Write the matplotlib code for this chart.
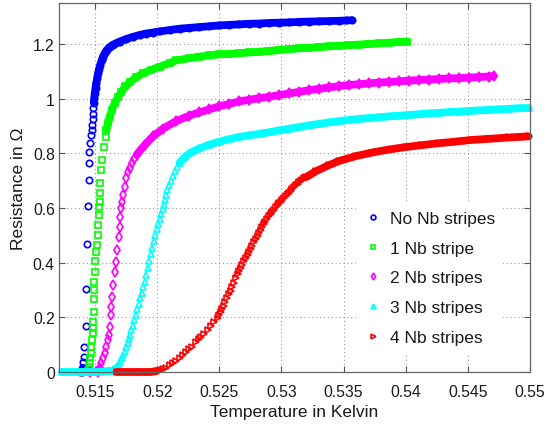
import numpy as np
import matplotlib
matplotlib.use("Agg")
import matplotlib.pyplot as plt

plt.rcParams['font.family'] = ['Liberation Sans', 'DejaVu Sans']

# ---------------- data ----------------
x_ticks = [0.515, 0.52, 0.525, 0.53, 0.535, 0.54, 0.545, 0.55]
x_tick_labels = ["0.515", "0.52", "0.525", "0.53", "0.535", "0.54", "0.545", "0.55"]
y_ticks = [0, 0.2, 0.4, 0.6, 0.8, 1.0, 1.2]
y_tick_labels = ["0", "0.2", "0.4", "0.6", "0.8", "1", "1.2"]

labels = ["No Nb stripes", "1 Nb stripe", "2 Nb stripes", "3 Nb stripes", "4 Nb stripes"]

blue_T = [0.51377, 0.51393, 0.51401, 0.51405, 0.51409, 0.51415, 0.51425, 0.51431, 0.51439,
          0.51444, 0.51449, 0.51451, 0.51455, 0.51463, 0.51471, 0.51475, 0.51478, 0.51481,
          0.51484, 0.51487, 0.51490, 0.51494, 0.51498, 0.51504, 0.51510, 0.51517, 0.51524,
          0.51533, 0.51542, 0.51553, 0.51564, 0.51580, 0.51594, 0.51618, 0.51642, 0.51670,
          0.51698, 0.51750, 0.51803, 0.51859, 0.51907, 0.51963, 0.52019, 0.52100, 0.52180,
          0.52260, 0.52340, 0.52421, 0.52501, 0.52581, 0.52661, 0.52741, 0.52822, 0.52902,
          0.52982, 0.53062, 0.53143, 0.53223, 0.53303, 0.53383, 0.53464, 0.53520, 0.53568]
blue_R = [0.0, 0.0, 0.015, 0.035, 0.056, 0.090, 0.168, 0.303, 0.467,
          0.607, 0.703, 0.766, 0.806, 0.839, 0.867, 0.885, 0.905, 0.925,
          0.945, 0.965, 0.985, 1.002, 1.020, 1.040, 1.057, 1.075, 1.093,
          1.110, 1.125, 1.140, 1.154, 1.168, 1.178, 1.189, 1.197, 1.203,
          1.209, 1.218, 1.226, 1.233, 1.238, 1.242, 1.246, 1.251, 1.256,
          1.259, 1.262, 1.265, 1.268, 1.270, 1.272, 1.274, 1.275, 1.277,
          1.278, 1.279, 1.281, 1.282, 1.283, 1.284, 1.285, 1.286, 1.287]

green_T = [0.51393, 0.51425, 0.51441, 0.51449, 0.51457, 0.51462, 0.51468, 0.51471, 0.51476,
           0.51481, 0.51484, 0.51486, 0.51488, 0.51489, 0.51490, 0.51494, 0.51496, 0.51501,
           0.51508, 0.51513, 0.51521, 0.51525, 0.51530, 0.51533, 0.51538, 0.51540, 0.51543,
           0.51551, 0.51559, 0.51570, 0.51585, 0.51592, 0.51605, 0.51618, 0.51638, 0.51658,
           0.51685, 0.51711, 0.51745, 0.51779, 0.51830, 0.51886, 0.51950, 0.52019, 0.52100,
           0.52152, 0.52260, 0.52340, 0.52421, 0.52501, 0.52581, 0.52661, 0.52741, 0.52822,
           0.52902, 0.52982, 0.53062, 0.53143, 0.53223, 0.53303, 0.53383, 0.53464, 0.53544,
           0.53624, 0.53704, 0.53785, 0.53865, 0.53945, 0.54010]
green_R = [0.0, 0.0, 0.005, 0.018, 0.032, 0.050, 0.068, 0.093, 0.117,
           0.142, 0.160, 0.184, 0.221, 0.266, 0.300, 0.330, 0.367, 0.406,
           0.440, 0.465, 0.501, 0.538, 0.574, 0.605, 0.623, 0.654, 0.690,
           0.739, 0.776, 0.824, 0.860, 0.885, 0.912, 0.934, 0.960, 0.983,
           1.005, 1.025, 1.045, 1.060, 1.078, 1.093, 1.105, 1.117, 1.130,
           1.140, 1.148, 1.154, 1.158, 1.162, 1.164, 1.166, 1.169, 1.172,
           1.175, 1.178, 1.181, 1.184, 1.186, 1.189, 1.191, 1.194, 1.196,
           1.198, 1.200, 1.202, 1.205, 1.207, 1.209]

magenta_T = [0.51457, 0.51522, 0.51538, 0.51551, 0.51564, 0.51578, 0.51591, 0.51604, 0.51612,
             0.51618, 0.51626, 0.51632, 0.51636, 0.51644, 0.51658, 0.51672, 0.51680, 0.51693,
             0.51698, 0.51704, 0.51712, 0.51720, 0.51726, 0.51738, 0.51752, 0.51762, 0.51779,
             0.51795, 0.51815, 0.51835, 0.51859, 0.51899, 0.51966, 0.52046, 0.52153, 0.52260,
             0.52340, 0.52421, 0.52501, 0.52581, 0.52661, 0.52741, 0.52822, 0.52902, 0.52982,
             0.53062, 0.53143, 0.53223, 0.53303, 0.53383, 0.53464, 0.53544, 0.53624, 0.53704,
             0.53785, 0.53865, 0.53945, 0.54025, 0.54106, 0.54186, 0.54267, 0.54347, 0.54427,
             0.54507, 0.54588, 0.54668, 0.54708]
magenta_R = [0.0, 0.0, 0.014, 0.032, 0.050, 0.068, 0.093, 0.117, 0.135,
             0.166, 0.209, 0.239, 0.276, 0.318, 0.367, 0.404, 0.446, 0.495,
             0.532, 0.568, 0.599, 0.623, 0.648, 0.678, 0.709, 0.730, 0.748,
             0.765, 0.780, 0.795, 0.808, 0.830, 0.862, 0.890, 0.918, 0.938,
             0.950, 0.961, 0.972, 0.981, 0.990, 0.996, 1.002, 1.007, 1.013,
             1.019, 1.025, 1.031, 1.036, 1.041, 1.046, 1.050, 1.053, 1.056,
             1.059, 1.061, 1.063, 1.066, 1.068, 1.070, 1.072, 1.074, 1.075,
             1.077, 1.079, 1.081, 1.083]

cyan_T = [0.51233, 0.51300, 0.51400, 0.51500, 0.51580, 0.51618, 0.51642, 0.51658, 0.51674,
          0.51690, 0.51702, 0.51714, 0.51726, 0.51738, 0.51750, 0.51762, 0.51770, 0.51779,
          0.51791, 0.51803, 0.51815, 0.51827, 0.51839, 0.51851, 0.51863, 0.51875, 0.51887,
          0.51899, 0.51911, 0.51923, 0.51935, 0.51947, 0.51959, 0.51971, 0.51983, 0.51995,
          0.52007, 0.52019, 0.52031, 0.52043, 0.52051, 0.52059, 0.52071, 0.52083, 0.52096,
          0.52108, 0.52124, 0.52140, 0.52160, 0.52180, 0.52220, 0.52260, 0.52340, 0.52421,
          0.52501, 0.52581, 0.52661, 0.52741, 0.52822, 0.52902, 0.52982, 0.53062, 0.53143,
          0.53223, 0.53303, 0.53383, 0.53464, 0.53544, 0.53624, 0.53704, 0.53785, 0.53865,
          0.53945, 0.54025, 0.54106, 0.54186, 0.54267, 0.54347, 0.54427, 0.54507, 0.54588,
          0.54668, 0.54748, 0.54829, 0.54909, 0.54989]
cyan_R = [0.0, 0.0, 0.0, 0.0, 0.002, 0.005, 0.010, 0.015, 0.022,
          0.030, 0.040, 0.050, 0.062, 0.075, 0.090, 0.105, 0.120, 0.135,
          0.152, 0.170, 0.190, 0.210, 0.230, 0.250, 0.270, 0.290, 0.310,
          0.330, 0.355, 0.380, 0.405, 0.430, 0.455, 0.480, 0.503, 0.525,
          0.543, 0.560, 0.578, 0.595, 0.612, 0.630, 0.648, 0.665, 0.683,
          0.700, 0.718, 0.735, 0.750, 0.765, 0.785, 0.800, 0.818, 0.832,
          0.843, 0.852, 0.860, 0.866, 0.871, 0.877, 0.884, 0.890, 0.896,
          0.902, 0.908, 0.913, 0.918, 0.922, 0.926, 0.929, 0.932, 0.935,
          0.938, 0.940, 0.943, 0.946, 0.948, 0.951, 0.953, 0.955, 0.957,
          0.959, 0.961, 0.963, 0.965, 0.966]

red_T = [0.51674, 0.51750, 0.51850, 0.51950, 0.51995, 0.52019, 0.52043, 0.52067, 0.52100,
         0.52124, 0.52148, 0.52180, 0.52204, 0.52228, 0.52260, 0.52284, 0.52316, 0.52340,
         0.52352, 0.52380, 0.52409, 0.52433, 0.52461, 0.52489, 0.52501, 0.52513, 0.52525,
         0.52537, 0.52549, 0.52565, 0.52581, 0.52593, 0.52605, 0.52621, 0.52637, 0.52649,
         0.52661, 0.52673, 0.52685, 0.52701, 0.52718, 0.52730, 0.52742, 0.52754, 0.52766,
         0.52782, 0.52798, 0.52810, 0.52822, 0.52834, 0.52846, 0.52858, 0.52870, 0.52886,
         0.52902, 0.52914, 0.52926, 0.52942, 0.52958, 0.52970, 0.52982, 0.52994, 0.53006,
         0.53023, 0.53039, 0.53051, 0.53063, 0.53075, 0.53087, 0.53103, 0.53119, 0.53131,
         0.53143, 0.53155, 0.53167, 0.53183, 0.53199, 0.53279, 0.53383, 0.53464, 0.53600,
         0.53729, 0.53865, 0.54002, 0.54130, 0.54267, 0.54403, 0.54531, 0.54668, 0.54829,
         0.54989]
red_R = [0.0, 0.0, 0.0, 0.0, 0.003, 0.007, 0.011, 0.016, 0.026,
         0.034, 0.042, 0.053, 0.062, 0.072, 0.083, 0.093, 0.108, 0.120,
         0.127, 0.140, 0.153, 0.167, 0.183, 0.199, 0.207, 0.218, 0.230,
         0.242, 0.255, 0.270, 0.285, 0.297, 0.310, 0.326, 0.343, 0.357,
         0.370, 0.381, 0.392, 0.405, 0.418, 0.429, 0.440, 0.450, 0.460,
         0.474, 0.487, 0.497, 0.508, 0.519, 0.530, 0.540, 0.550, 0.560,
         0.570, 0.577, 0.585, 0.594, 0.603, 0.610, 0.617, 0.623, 0.630,
         0.638, 0.645, 0.650, 0.656, 0.662, 0.668, 0.676, 0.683, 0.689,
         0.694, 0.699, 0.703, 0.708, 0.713, 0.735, 0.757, 0.772, 0.790,
         0.803, 0.814, 0.823, 0.830, 0.837, 0.843, 0.849, 0.853, 0.858,
         0.862]

# ---------------- style ----------------
series = [
    (blue_T, blue_R, '#0000ff', 'o', 0.51401, 0.51490),
    (green_T, green_R, '#00ff00', 's', 0.51441, 0.51592),
    (magenta_T, magenta_R, '#ff00ff', 'd', 0.51538, 0.51835),
    (cyan_T, cyan_R, '#00ffff', '^', 0.51618, 0.52180),
    (red_T, red_R, '#ff0000', '>', 0.51995, 0.53199),
]
band_lw = 5.6
ms = 4.6

fig = plt.figure(figsize=(5.45, 4.27), dpi=100)
ax = fig.add_axes([59/545, 1 - 373/427, 471/545, 369/427])

for (T, R, c, m, zero_end, plat_start), lab in zip(series, labels):
    T = np.asarray(T)
    R = np.asarray(R)
    z = T <= zero_end
    p = T >= plat_start
    ax.plot(T[z], R[z], color=c, lw=band_lw, solid_capstyle='round', clip_on=False, zorder=2)
    ax.plot(T[p], R[p], color=c, lw=band_lw, solid_capstyle='round',
            solid_joinstyle='round', clip_on=False, zorder=2)
    ax.plot(T, R, ls='none', marker=m, mfc='none', mec=c, ms=ms, mew=1.2,
            clip_on=False, zorder=2, label=lab)

ax.set_xlim(0.5121, 0.55)
ax.set_ylim(0, 1.35)
ax.set_xticks(x_ticks)
ax.set_xticklabels(x_tick_labels)
ax.set_yticks(y_ticks)
ax.set_yticklabels(y_tick_labels)

ax.grid(True, linestyle=(0, (1, 2.5)), color='#9a9a9a', linewidth=0.8)
ax.set_axisbelow(True)
ax.tick_params(direction='in', top=True, right=True, length=4, width=0.8,
               colors='#555555', labelcolor='#1a1a1a', labelsize=11.3)
ax.tick_params(axis='x', pad=9)
ax.tick_params(axis='y', pad=3)
for s in ax.spines.values():
    s.set_color('#666666')
    s.set_linewidth(0.9)

ax.set_xlabel('Temperature in Kelvin', fontsize=12.5, color='#1a1a1a', labelpad=3)
ax.set_ylabel('Resistance in Ω', fontsize=12.5, color='#1a1a1a', labelpad=5)

leg = ax.legend(loc='upper left', bbox_to_anchor=(0.612, 0.479), frameon=True,
                fontsize=12.5, markerscale=0.75, handlelength=1.2, handletextpad=0.35,
                labelspacing=0.84, borderpad=0.4, fancybox=False)
leg.get_frame().set_edgecolor('white')
leg.get_frame().set_facecolor('white')
leg.get_frame().set_alpha(1.0)
for t in leg.get_texts():
    t.set_color('#1a1a1a')

fig.savefig('out.png', dpi=100)
